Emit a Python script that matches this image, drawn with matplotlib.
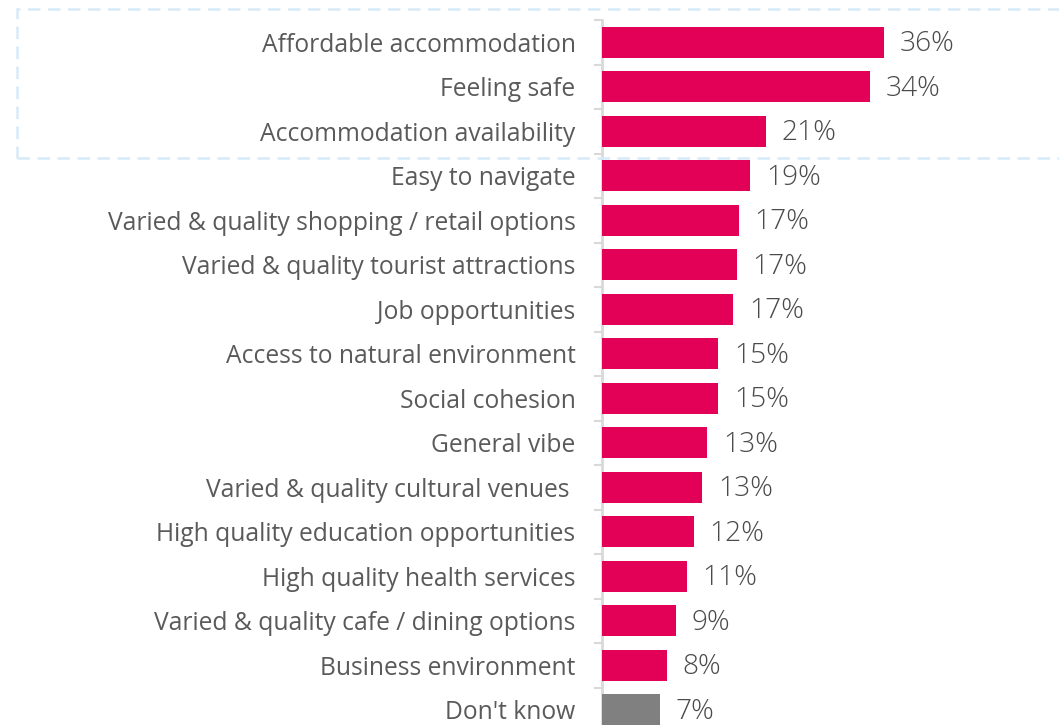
import matplotlib
matplotlib.use("Agg")
import matplotlib.pyplot as plt
from matplotlib.patches import Rectangle
from matplotlib.textpath import TextPath
from matplotlib.font_manager import FontProperties
import numpy as np

categories = [
    "Affordable accommodation",
    "Feeling safe",
    "Accommodation availability",
    "Easy to navigate",
    "Varied & quality shopping / retail options",
    "Varied & quality tourist attractions",
    "Job opportunities",
    "Access to natural environment",
    "Social cohesion",
    "General vibe",
    "Varied & quality cultural venues ",
    "High quality education opportunities",
    "High quality health services",
    "Varied & quality cafe / dining options",
    "Business environment",
    "Don't know",
]
values = [35.9, 34.1, 20.9, 18.9, 17.4, 17.2, 16.7, 14.8, 14.8, 13.4, 12.8,
          11.7, 10.8, 9.4, 8.3, 7.4]
labels = ["36%", "34%", "21%", "19%", "17%", "17%", "17%", "15%", "15%",
          "13%", "13%", "12%", "11%", "9%", "8%", "7%"]

PINK = "#E30057"
GREY = "#808080"
colors = [PINK] * (len(values) - 1) + [GREY]

FONT = "Open Sans"
plt.rcParams["font.family"] = [FONT, "DejaVu Sans"]


def fit_size(text, target_px, family, weight="normal"):
    fp = FontProperties(family=family, size=10, weight=weight)
    w = TextPath((0, 0), text, prop=fp).get_extents().width
    return 10 * target_px / (w * 100 / 72)


label_fs = fit_size("Varied & quality shopping / retail options", 466, FONT)
value_fs = fit_size("36%", 52, FONT, weight="light")

W, H = 1059, 725
fig = plt.figure(figsize=(W / 100, H / 100), dpi=100)

ax_left = 602
ax_top = 20
row_h = 44.5
n = len(categories)
ax_h = n * row_h
ax_w = W - ax_left
ax = fig.add_axes([ax_left / W, (H - ax_top - ax_h) / H, ax_w / W, ax_h / H])

px_per_unit = 7.85
y = np.arange(n)
ax.barh(y, values, height=0.70, color=colors, zorder=3)
ax.set_ylim(n - 0.5, -0.5)
ax.set_xlim(0, ax_w / px_per_unit)

for yi, v, lab in zip(y, values, labels):
    ax.text(v + 2.0, yi + 0.04, lab, va="center", ha="left", fontsize=value_fs,
            color="#4a4a4a", fontweight="light")

ax.set_yticks(y)
ax.set_yticklabels(categories, fontsize=label_fs, color="#5a5a5a")
ax.tick_params(axis="y", which="major", length=0, pad=19)
ax.set_yticks(np.arange(-0.5, n, 1.0), minor=True)
ax.tick_params(axis="y", which="minor", length=6, width=1.5, color="#d9d9d9")
ax.set_xticks([])
for s in ["top", "right", "bottom"]:
    ax.spines[s].set_visible(False)
ax.spines["left"].set_color("#d9d9d9")
ax.spines["left"].set_linewidth(2)

# dashed highlight box around top three
rect = Rectangle((17 / W, 1 - 158 / H), (W + 20 - 17) / W, (158 - 9) / H,
                 transform=fig.transFigure, fill=False, edgecolor="#d6eaf8",
                 linewidth=1.8, linestyle=(0, (5, 3)), zorder=0)
fig.patches.append(rect)

fig.savefig("out.png", dpi=100)
